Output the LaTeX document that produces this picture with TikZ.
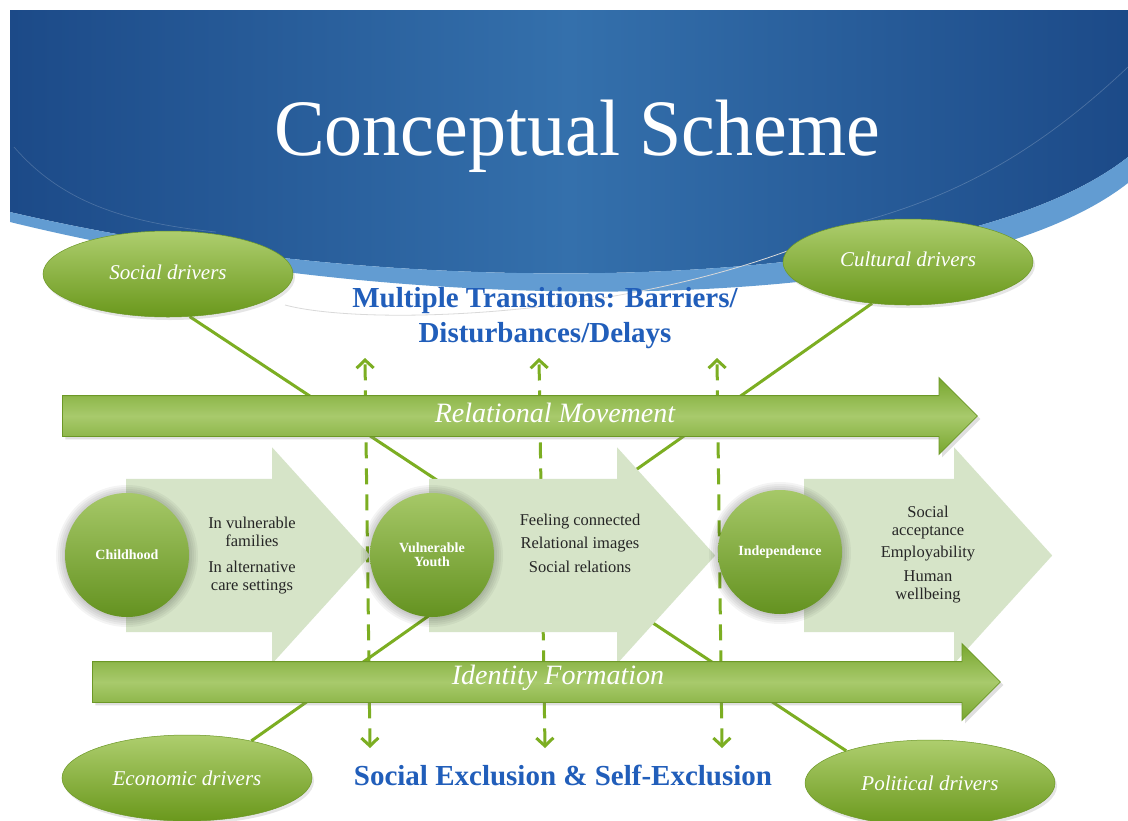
\documentclass[tikz,border=0pt]{standalone}
\usepackage{fontspec}
\setmainfont{Liberation Serif}
\usepackage{graphicx}
\usetikzlibrary{shapes.geometric,shapes.arrows,arrows.meta,shadows}
\definecolor{blueDark}{RGB}{28,74,136}
\definecolor{blueMid}{RGB}{52,112,172}
\definecolor{blueStripe}{RGB}{98,156,210}
\definecolor{txtBlue}{RGB}{33,94,186}
\definecolor{lineGreen}{RGB}{124,174,34}
\definecolor{arrDark}{RGB}{120,166,46}
\definecolor{arrLight}{RGB}{168,202,108}
\definecolor{arrEdge}{RGB}{108,152,38}
\definecolor{chev}{RGB}{214,228,200}
\definecolor{ellTop}{RGB}{174,206,110}
\definecolor{ellBot}{RGB}{106,152,28}
\definecolor{cirTop}{RGB}{166,200,104}
\definecolor{cirBot}{RGB}{100,146,32}
\pgfdeclarelayer{back}
\pgfdeclarelayer{lines}
\pgfsetlayers{back,lines,main}
\begin{document}
\begin{tikzpicture}[x=1pt,y=-1pt,
  bigarrow/.style={single arrow, single arrow head extend=18pt, single arrow tip angle=90,
    inner xsep=0pt, inner ysep=20pt, top color=arrDark, bottom color=arrDark, middle color=arrLight,
    draw=arrEdge, line width=0.8pt,
    drop shadow={shadow xshift=3pt, shadow yshift=-3pt, opacity=0.25}},
  chevron/.style={single arrow, single arrow head extend=31.5pt, single arrow tip angle=95.6,
    inner xsep=0pt, inner ysep=76.5pt, fill=chev},
  circ/.style={circle, minimum size=124pt, inner sep=0pt, top color=cirTop, bottom color=cirBot,
    text=white, align=center, font=\fontsize{14}{14}\selectfont\bfseries},
  drv/.style={ellipse, minimum width=250pt, minimum height=86pt, inner sep=0pt,
    top color=ellTop, bottom color=ellBot, draw=arrEdge, line width=0.5pt,
    text=white, font=\fontsize{21}{24}\selectfont\itshape,
    drop shadow={shadow xshift=2pt, shadow yshift=-3pt, opacity=0.2}},
  lbl/.style={text=white, font=\fontsize{28}{30}\selectfont\itshape},
  chevtxt/.style={align=center, text=black!85, font=\fontsize{16.5}{18}\selectfont},
  diag/.style={draw=lineGreen, line width=3pt},
  dasharrow/.style={draw=lineGreen, line width=3pt, dash pattern=on 16pt off 10pt,
    arrows={Straight Barb[length=8pt,width=17pt]-Straight Barb[length=8pt,width=17pt]}},
  bluetxt/.style={text=txtBlue, font=\bfseries\fontsize{29}{35}\selectfont, align=center}
]
\useasboundingbox (0,0) rectangle (1128,820);

\begin{pgfonlayer}{back}
\fill[white] (0,0) rectangle (1128,820);
\path[left color=blueDark, right color=blueDark, middle color=blueMid]
  (10,10) -- (1128,10) -- (1128,157) .. controls (960,290) and (430,310) .. (10,212) -- cycle;
\fill[blueStripe] (1128,157) -- (1128,183) .. controls (960,315) and (430,325) .. (10,222)
  -- (10,212) .. controls (430,310) and (960,290) .. (1128,157) -- cycle;
\draw[white, opacity=0.18, line width=0.7pt] (14,147) .. controls (60,200) and (120,222) .. (216,232);
\draw[white, opacity=0.2, line width=0.7pt] (1128,67) .. controls (1040,150) and (960,195) .. (860,222);
\draw[gray!30, line width=0.8pt] (285,305) .. controls (360,325) and (600,320) .. (790,250);
\end{pgfonlayer}

\node[font=\fontsize{80}{90}\selectfont, text=white, anchor=base] (title) at (577,155)
  {\scalebox{0.95}[1]{Conceptual Scheme}};

% dashed transition arrows
\coordinate (d1t) at (365,358); \coordinate (d1b) at (370,748);
\coordinate (d2t) at (539,358); \coordinate (d2b) at (545,748);
\coordinate (d3t) at (717,358); \coordinate (d3b) at (722,748);
\begin{pgfonlayer}{lines}
\draw[dasharrow] (d1b) -- (d1t);
\draw[dasharrow] (d2b) -- (d2t);
\draw[dasharrow] (d3b) -- (d3t);
\end{pgfonlayer}

% chevrons
\node[chevron, minimum height=244pt, anchor=tail] (ch1) at (126,555.5) {};
\node[chevron, minimum height=286pt, anchor=tail] (ch2) at (429,555.5) {};
\node[chevron, minimum height=248pt, anchor=tail] (ch3) at (804,555.5) {};

% big arrows
\node[bigarrow, minimum height=915pt, anchor=tail] (relm) at (62,416) {};
\node[bigarrow, minimum height=908pt, anchor=tail] (idf) at (92,682) {};
\node[lbl] (relmt) at (555,413) {Relational Movement};
\node[lbl] (idft) at (558,678) {Identity Formation};

% circle halos
\foreach \cx/\cy in {127/555,432/555,780/552}{
  \foreach \r in {63,65,67,69,71}{
    \fill[black, opacity=0.045] (\cx,\cy+1) circle (\r pt);
  }
}
\node[circ] (child) at (127,555) {Childhood};
\node[circ] (youth) at (432,555) {Vulnerable\\Youth};
\node[circ] (indep) at (780,552) {Independence};

% chevron texts
\node[chevtxt] (t1a) at (252,531.5) {In vulnerable\\families};
\node[chevtxt] (t1b) at (252,577.5) {In alternative\\care settings};
\node[chevtxt, font=\fontsize{16.5}{23.5}\selectfont] (t2) at (580,543) {Feeling connected\\Relational images\\Social relations};
\node[chevtxt] (t3a) at (928,523) {Social\\acceptance};
\node[chevtxt] (t3b) at (928,554) {Employability};
\node[chevtxt] (t3c) at (928,586.5) {Human\\wellbeing};

% driver ellipses
\node[drv] (socd) at (168,274) {\raisebox{4pt}{Social drivers}};
\node[drv] (culd) at (908,262) {\raisebox{5pt}{Cultural drivers}};
\node[drv] (econd) at (187,778) {Economic drivers};
\node[drv] (pold) at (930,783) {Political drivers};

\begin{pgfonlayer}{lines}
\draw[diag] (socd.-63) -- (pold.159);
\draw[diag] (culd.-131) -- (econd.30);
\end{pgfonlayer}

\node[bluetxt] (multi) at (545,318) {Multiple Transitions: Barriers/\\Disturbances/Delays};
\node[bluetxt, font=\bfseries\fontsize{29}{32}\selectfont] (excl) at (563,775) {Social Exclusion \& Self-Exclusion};
\end{tikzpicture}
\end{document}
